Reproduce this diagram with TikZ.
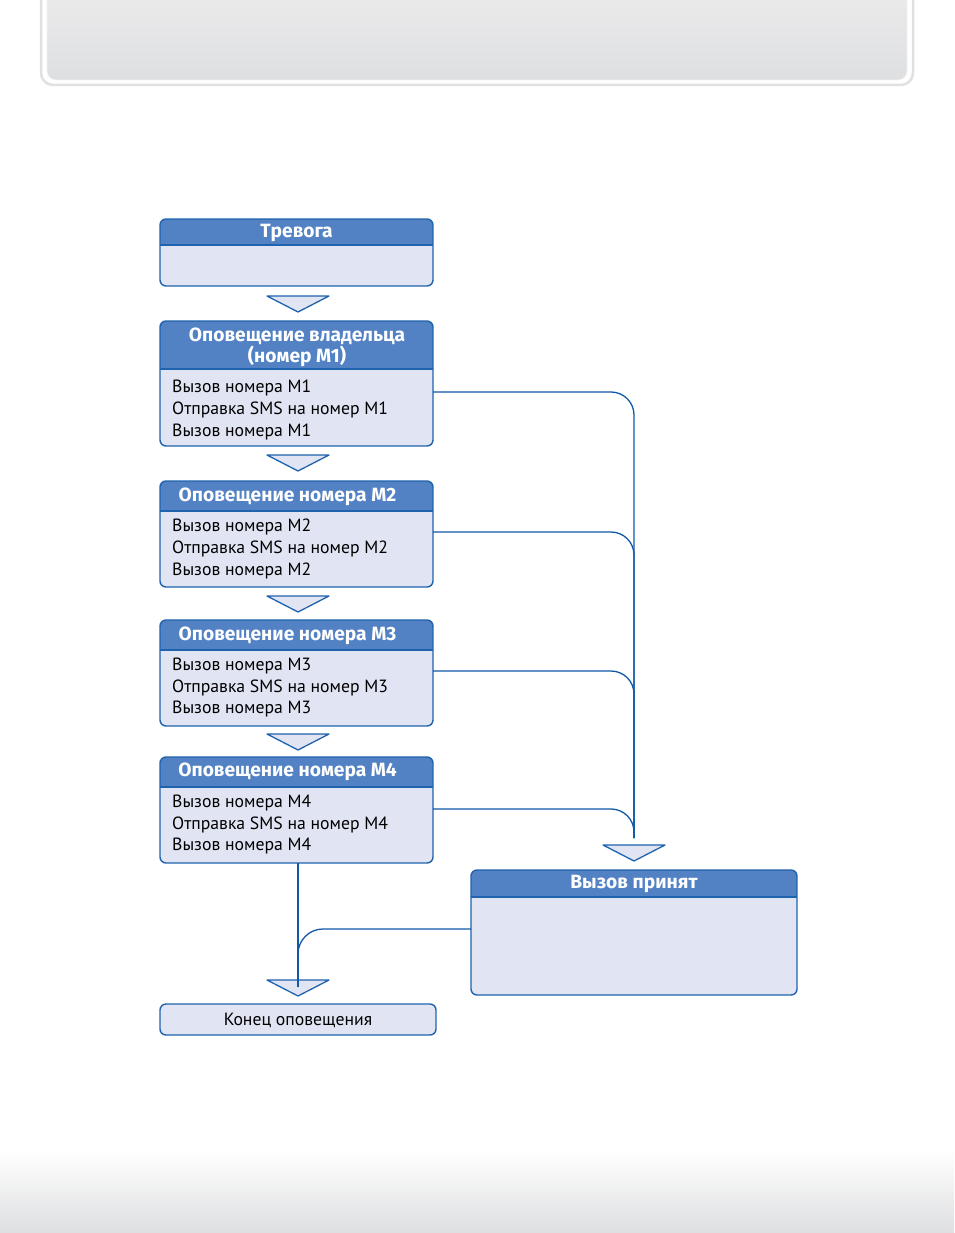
\documentclass[tikz,border=0pt]{standalone}
\usepackage{fontspec}
\setmainfont{PT Sans}
\newfontfamily\hdrfont{Fira Sans}
\definecolor{hdr}{HTML}{5282C4}
\definecolor{bodyc}{HTML}{E1E5F3}
\definecolor{edgec}{HTML}{1F62AE}
\definecolor{connc}{HTML}{1059A8}
\definecolor{frameg}{HTML}{DFE0E2}
\definecolor{shadetop}{HTML}{EDEDED}
\definecolor{shadebot}{HTML}{DEDFE1}
\tikzset{
  bxnode/.style={anchor=north west, inner sep=0pt, outer sep=0pt, fill=bodyc, rounded corners=6pt},
  bxedge/.style={draw=edgec, line width=1.4pt, rounded corners=6pt},
  hdrtxt/.style={text=white, font=\hdrfont\bfseries\fontsize{19.2}{21}\selectfont, align=center, inner sep=0pt},
  bodytxt/.style={text=black, font=\fontsize{17.7}{21.6}\selectfont, align=left, anchor=north west, inner sep=0pt},
  conn/.style={draw=connc, line width=1.3pt},
  tri/.style={draw=edgec, fill=bodyc, line width=1.3pt, line join=round},
}
\newcommand\flowbx[6]{%
  \node[bxnode, minimum width={#4-#2}, minimum height={#5-#3}] (#1) at (#2,#3) {};
  \begin{scope}
    \clip[rounded corners=6pt] (#2,#3) rectangle (#4,#5);
    \fill[hdr] (#2,#3) rectangle (#4,#6);
  \end{scope}
  \draw[edgec, line width=1.4pt] (#2,#6) -- (#4,#6);
  \draw[bxedge] (#2,#3) rectangle (#4,#5);
}
\newcommand\downtri[2]{%
  \draw[tri] (#1-31,#2) -- (#1+31,#2) -- (#1,#2+16) -- cycle;
}
\begin{document}
\begin{tikzpicture}[x=1pt,y=-1pt]
\useasboundingbox (0,0) rectangle (954,1233);
% page decorations
\draw[frameg, line width=2.5pt, rounded corners=12pt] (41,-30) rectangle (913,85);
\shade[top color=shadetop, bottom color=shadebot, rounded corners=9pt] (47,-30) rectangle (907,80);
\draw[white!90!gray, line width=0.6pt, rounded corners=9pt] (47,-30) rectangle (907,80);
\shade[top color=white, bottom color=shadebot] (0,1150) rectangle (954,1233);

% boxes
\flowbx{b0}{160}{219}{433}{286}{245}
\node[hdrtxt] (t0) at (296.5,232.5) {Тревога};

\flowbx{b1}{160}{321}{433}{446}{369}
\node[hdrtxt] (t1) at (297,347) {Оповещение владельца\\(номер M1)};
\node[bodytxt] (x1) at (172,380) {Вызов номера M1\\Отправка SMS на номер M1\\Вызов номера M1};

\flowbx{b2}{160}{481}{433}{587}{511}
\node[hdrtxt] (t2) at (287.5,496.5) {Оповещение номера M2};
\node[bodytxt] (x2) at (172,519) {Вызов номера M2\\Отправка SMS на номер M2\\Вызов номера M2};

\flowbx{b3}{160}{620}{433}{726}{650}
\node[hdrtxt] (t3) at (287.5,635.5) {Оповещение номера M3};
\node[bodytxt] (x3) at (172,658) {Вызов номера M3\\Отправка SMS на номер M3\\Вызов номера M3};

\flowbx{b4}{160}{757}{433}{863}{787}
\node[hdrtxt] (t4) at (287.5,771.5) {Оповещение номера M4};
\node[bodytxt] (x4) at (172,795) {Вызов номера M4\\Отправка SMS на номер M4\\Вызов номера M4};

\flowbx{b5}{471}{870}{797}{995}{897}
\node[hdrtxt] (t5) at (634,884) {Вызов принят};

\node[bxnode, draw=edgec, line width=1.4pt, minimum width=276, minimum height=31] (b6) at (160,1004) {};
\node[text=black, font=\fontsize{17.7}{20}\selectfont, inner sep=0pt] (t6) at (298,1020) {Конец оповещения};

% down triangles
\downtri{298}{296}
\downtri{298}{455}
\downtri{298}{596}
\downtri{298}{734}
\downtri{634}{845}
\downtri{298}{980}

% connectors
\coordinate (j) at (634,838);
\coordinate (e) at (298,987);
\draw[conn, rounded corners=23pt] (b1.east |- 0,392) -| (j);
\draw[conn, rounded corners=23pt] (b2.east |- 0,532) -| (j);
\draw[conn, rounded corners=23pt] (b3.east |- 0,671) -| (j);
\draw[conn, rounded corners=23pt] (b4.east |- 0,809) -| (j);
\draw[conn] (b4.south -| e) -- (e);
\draw[conn, rounded corners=25pt] (b5.west |- 0,929) -| (e);
\end{tikzpicture}
\end{document}
